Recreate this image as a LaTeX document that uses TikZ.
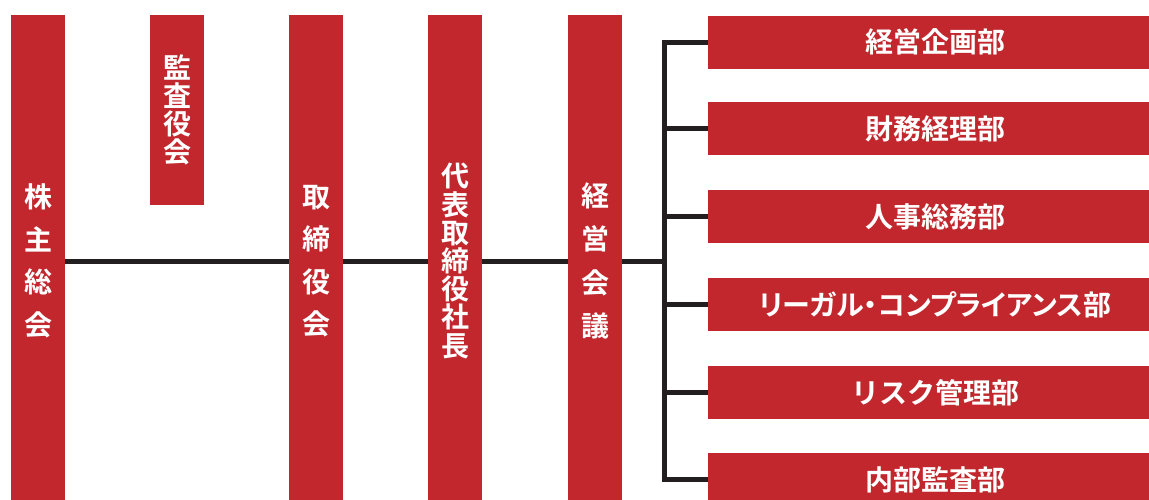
\documentclass[tikz,border=0pt]{standalone}
\usepackage{fontspec}
\newfontfamily\jp{Noto Sans CJK JP}[BoldFont=* Bold]
\definecolor{boxred}{HTML}{C1272D}
\definecolor{linedark}{HTML}{231F20}
\tikzset{
  vbar/.style={fill=boxred, text=white, inner sep=0pt, minimum width=54pt, align=center},
  hbox/.style={fill=boxred, text=white, inner sep=0pt, minimum width=454pt, minimum height=53pt,
    font=\jp\bfseries\fontsize{28}{28}\selectfont},
  conn/.style={draw=linedark, line width=5pt, line join=miter},
}
\begin{document}
\begin{tikzpicture}[x=1pt,y=-1pt]
\useasboundingbox (0,0) rectangle (1149,499);
\clip (0,0) rectangle (1149,499);
% vertical bars
\node[vbar, minimum height=492pt, font=\jp\bfseries\fontsize{28}{42.5}\selectfont] (kabu) at (38,261) {株\\主\\総\\会};
\node[vbar, minimum height=190pt, font=\jp\bfseries\fontsize{28}{28}\selectfont] (kansa) at (177,110) {監\\査\\役\\会};
\node[vbar, minimum height=492pt, font=\jp\bfseries\fontsize{28}{42.5}\selectfont] (tori) at (316,261) {取\\締\\役\\会};
\node[vbar, minimum height=492pt, font=\jp\bfseries\fontsize{28}{28.2}\selectfont] (daihyo) at (455,261) {代\\表\\取\\締\\役\\社\\長};
\node[vbar, minimum height=492pt, font=\jp\bfseries\fontsize{28}{43.5}\selectfont] (keiei) at (595,261) {経\\営\\会\\議};
% horizontal boxes
\node[hbox] (b1) at (935,42) {経営企画部};
\node[hbox] (b2) at (935,128.5) {財務経理部};
\node[hbox] (b3) at (935,216.5) {人事総務部};
\node[hbox] (b4) at (935,304.5) {\addfontfeatures{RawFeature=+palt}リーガル・コンプライアンス部};
\node[hbox] (b5) at (935,392.5) {リスク管理部};
\node[hbox] (b6) at (935,479.5) {内部監査部};
\coordinate (spine) at (664,261);
% connectors
\draw[conn] (kabu) -- (tori);
\draw[conn] (tori) -- (daihyo);
\draw[conn] (daihyo) -- (keiei);
\draw[conn] (keiei) -- (spine);
\draw[conn] (b1.west) -- (b1.west -| spine) -- (b6.west -| spine) -- (b6.west);
\draw[conn] (b2.west) -- (b2.west -| spine);
\draw[conn] (b3.west) -- (b3.west -| spine);
\draw[conn] (b4.west) -- (b4.west -| spine);
\draw[conn] (b5.west) -- (b5.west -| spine);
\end{tikzpicture}
\end{document}
